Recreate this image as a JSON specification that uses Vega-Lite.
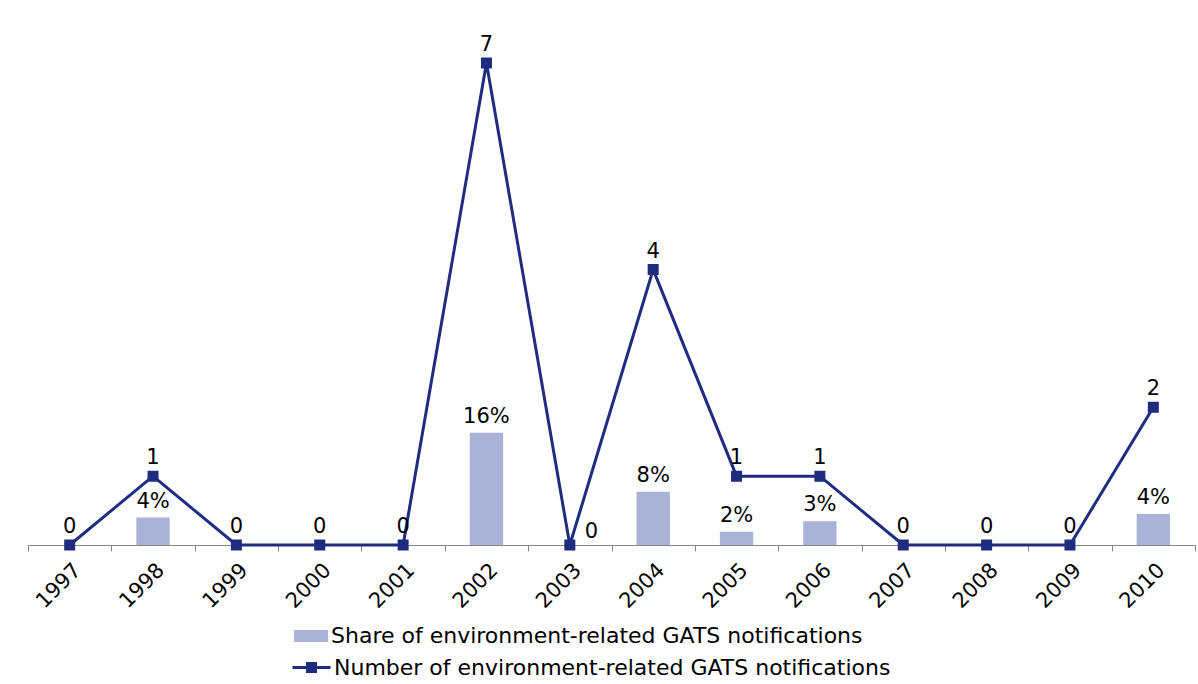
{
  "$schema": "https://vega.github.io/schema/vega-lite/v6.json",
  "autosize": "none",
  "width": 1167,
  "height": 482,
  "padding": {"left": 28, "top": 63, "right": 3, "bottom": 139},
  "background": "white",
  "config": {
    "font": "DejaVu Sans",
    "view": {"stroke": null},
    "text": {"font": "DejaVu Sans", "fontSize": 21, "color": "#000000"},
    "legend": {"padding": 0, "labelFont": "DejaVu Sans", "labelFontSize": 22, "labelColor": "#000000", "labelLimit": 900}
  },
  "data": {
    "values": [
      {"year": "1997", "number": 0, "share": null},
      {"year": "1998", "number": 1, "share": 0.039},
      {"year": "1999", "number": 0, "share": null},
      {"year": "2000", "number": 0, "share": null},
      {"year": "2001", "number": 0, "share": null},
      {"year": "2002", "number": 7, "share": 0.16},
      {"year": "2003", "number": 0, "share": null},
      {"year": "2004", "number": 4, "share": 0.076},
      {"year": "2005", "number": 1, "share": 0.019},
      {"year": "2006", "number": 1, "share": 0.034},
      {"year": "2007", "number": 0, "share": null},
      {"year": "2008", "number": 0, "share": null},
      {"year": "2009", "number": 0, "share": null},
      {"year": "2010", "number": 2, "share": 0.044}
    ]
  },
  "encoding": {
    "x": {
      "field": "year",
      "type": "ordinal",
      "scale": {"paddingInner": 0, "paddingOuter": 0},
      "axis": {
        "title": null,
        "labelAngle": -45,
        "labelAlign": "right",
        "labelBaseline": "top",
        "labelFont": "DejaVu Sans",
        "labelFontSize": 21,
        "labelColor": "#000000",
        "domainColor": "#868686",
        "tickColor": "#868686",
        "tickSize": 6,
        "tickBand": "extent",
        "labelPadding": 8
      }
    }
  },
  "layer": [
    {
      "mark": {"type": "bar", "width": {"band": 0.4}},
      "encoding": {
        "y": {"field": "share", "type": "quantitative", "scale": {"domain": [0, 0.6866]}, "axis": null},
        "fill": {
          "datum": "Share of environment-related GATS notifications",
          "type": "nominal",
          "scale": {"range": ["#A9B3D8"]},
          "legend": {
            "title": null,
            "orient": "none",
            "legendX": 266,
            "legendY": 556,
            "symbolType": "M-1,-0.36H1V0.36H-1Z",
            "symbolSize": 1156,
            "symbolStrokeWidth": 0,
            "labelOffset": 3
          }
        }
      }
    },
    {
      "mark": {"type": "text", "baseline": "alphabetic", "dy": -10},
      "encoding": {
        "y": {"field": "share", "type": "quantitative", "scale": {"domain": [0, 0.6866]}, "axis": null},
        "text": {"field": "share", "type": "quantitative", "format": ".0%"}
      }
    },
    {
      "mark": {"type": "line", "color": "#1F2C80", "strokeWidth": 3,
        "point": {"shape": "square", "size": 81, "filled": true, "color": "#1F2C80"}},
      "encoding": {
        "y": {"field": "number", "type": "quantitative", "scale": {"domain": [0, 7]}, "axis": null},
        "stroke": {
          "datum": "Number of environment-related GATS notifications",
          "type": "nominal",
          "scale": {"range": ["#1F2C80"]},
          "legend": {
            "title": null,
            "orient": "none",
            "legendX": 263,
            "legendY": 584,
            "symbolType": "M-1,0H1M-0.21,-0.21H0.21V0.21H-0.21Z",
            "symbolSize": 1444,
            "symbolStrokeWidth": 3,
            "symbolFillColor": "#1F2C80",
            "labelOffset": 2
          }
        }
      }
    },
    {
      "transform": [{"filter": "datum.year != '2003'"}],
      "mark": {"type": "text", "baseline": "alphabetic", "dy": -12},
      "encoding": {
        "y": {"field": "number", "type": "quantitative", "scale": {"domain": [0, 7]}, "axis": null},
        "text": {"field": "number", "type": "quantitative"}
      }
    },
    {
      "transform": [{"filter": "datum.year == '2003'"}],
      "mark": {"type": "text", "baseline": "alphabetic", "align": "left", "dx": 15, "dy": -7},
      "encoding": {
        "y": {"field": "number", "type": "quantitative", "scale": {"domain": [0, 7]}, "axis": null},
        "text": {"field": "number", "type": "quantitative"}
      }
    }
  ],
  "resolve": {"scale": {"y": "independent"}}
}
